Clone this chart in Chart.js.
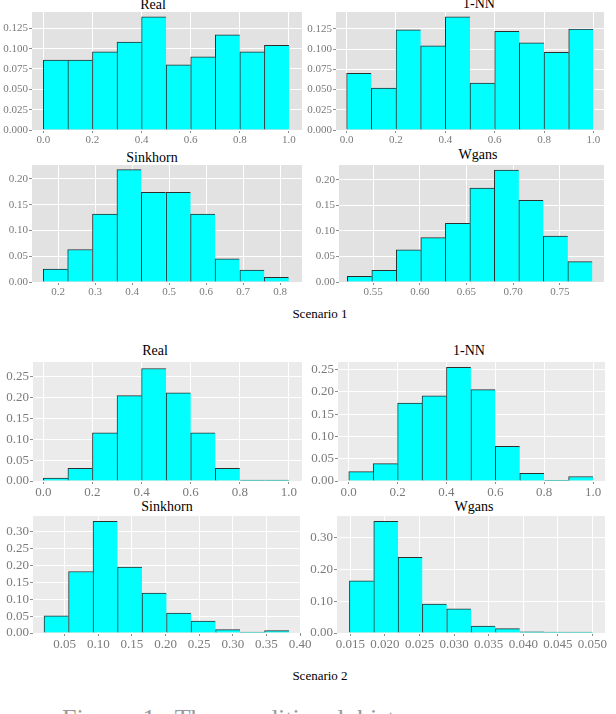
<!DOCTYPE html>
<html>
<head>
<meta charset="utf-8">
<title>Conditional histograms</title>
<script src="https://cdn.jsdelivr.net/npm/chart.js@4.4.1/dist/chart.umd.min.js"></script>
<style>
  body { margin: 0; background: #fff; }
  #page { position: relative; width: 616px; height: 714px; overflow: hidden; font-family: 'Liberation Serif', 'DejaVu Serif', serif; }
  #page canvas { position: absolute; }
  .label { position: absolute; color: #000; white-space: nowrap; line-height: 1; transform: translateX(-50%); }
  .panel-title { font-size: 14px; }
  .scenario { font-size: 13px; }
  #caption { position: absolute; left: 62px; top: 706px; width: 363px; overflow: hidden; white-space: nowrap; font-size: 26px; line-height: 1; color: #9a9a9a; word-spacing: 6px; }
</style>
</head>
<body>
<div id="page">
  <div class="label panel-title" style="left:153px;top:-2px">Real</div>
  <div class="label panel-title" style="left:479px;top:-3px">1-NN</div>
  <div class="label panel-title" style="left:152px;top:151px">Sinkhorn</div>
  <div class="label panel-title" style="left:478px;top:148px">Wgans</div>
  <div class="label scenario" style="left:320px;top:307px">Scenario 1</div>
  <div class="label panel-title" style="left:155px;top:344px">Real</div>
  <div class="label panel-title" style="left:469px;top:344px">1-NN</div>
  <div class="label panel-title" style="left:167px;top:500px">Sinkhorn</div>
  <div class="label panel-title" style="left:474px;top:500px">Wgans</div>
  <div class="label scenario" style="left:320px;top:669px">Scenario 2</div>
  <div id="caption">Figure 1: The conditional histograms</div>
</div>
<script>
// ---- Scenario 1 ----
const s1RealBins = [0.05, 0.15, 0.25, 0.35, 0.45, 0.55, 0.65, 0.75, 0.85, 0.95];
const s1RealValues = [0.086, 0.086, 0.096, 0.108, 0.139, 0.080, 0.090, 0.117, 0.096, 0.104];

const s1NnBins = [0.05, 0.15, 0.25, 0.35, 0.45, 0.55, 0.65, 0.75, 0.85, 0.95];
const s1NnValues = [0.070, 0.052, 0.124, 0.104, 0.140, 0.058, 0.122, 0.108, 0.096, 0.125];

const s1SinkhornBins = [0.193, 0.259, 0.326, 0.392, 0.458, 0.525, 0.591, 0.657, 0.724, 0.790];
const s1SinkhornValues = [0.025, 0.063, 0.132, 0.218, 0.174, 0.174, 0.132, 0.045, 0.023, 0.009];

const s1WgansBins = [0.5356, 0.5618, 0.5880, 0.6142, 0.6405, 0.6667, 0.6929, 0.7191, 0.7453, 0.7715];
const s1WgansValues = [0.011, 0.023, 0.063, 0.087, 0.115, 0.184, 0.219, 0.160, 0.090, 0.040];

// ---- Scenario 2 ----
const s2RealBins = [0.05, 0.15, 0.25, 0.35, 0.45, 0.55, 0.65, 0.75, 0.85, 0.95];
const s2RealValues = [0.007, 0.030, 0.115, 0.204, 0.269, 0.211, 0.115, 0.030, 0.002, 0.002];

const s2NnBins = [0.05, 0.15, 0.25, 0.35, 0.45, 0.55, 0.65, 0.75, 0.85, 0.95];
const s2NnValues = [0.021, 0.039, 0.175, 0.191, 0.255, 0.205, 0.078, 0.017, 0.0015, 0.010];

const s2SinkhornBins = [0.0374, 0.0739, 0.1103, 0.1468, 0.1832, 0.2197, 0.2561, 0.2926, 0.3290, 0.3655];
const s2SinkhornValues = [0.051, 0.182, 0.330, 0.195, 0.118, 0.059, 0.035, 0.010, 0.003, 0.007];

const s2WgansBins = [0.01662, 0.02014, 0.02365, 0.02717, 0.03069, 0.03421, 0.03773, 0.04125, 0.04476, 0.04828];
const s2WgansValues = [0.164, 0.351, 0.238, 0.091, 0.076, 0.022, 0.014, 0.004, 0.003, 0.003];

// ---- Tick labels ----
const unitTicks = [0.0, 0.2, 0.4, 0.6, 0.8, 1.0];
const s1CountTicks = [0.000, 0.025, 0.050, 0.075, 0.100, 0.125];
const s1SinkhornTicks = [0.2, 0.3, 0.4, 0.5, 0.6, 0.7, 0.8];
const s1WgansTicks = [0.55, 0.60, 0.65, 0.70, 0.75];
const s1DensityTicks = [0.00, 0.05, 0.10, 0.15, 0.20];
const s2CountTicks = [0.00, 0.05, 0.10, 0.15, 0.20, 0.25];
const s2SinkhornTicks = [0.05, 0.10, 0.15, 0.20, 0.25, 0.30, 0.35, 0.40];
const s2SinkhornCountTicks = [0.00, 0.05, 0.10, 0.15, 0.20, 0.25, 0.30];
const s2WgansTicks = [0.015, 0.020, 0.025, 0.030, 0.035, 0.040, 0.045, 0.050];
const s2WgansCountTicks = [0.00, 0.10, 0.20, 0.30];

// fondo gris del panel (estilo ggplot)
const panelBackground = {
  id: 'panelBackground',
  beforeDraw(chart, args, opts) {
    const { ctx, chartArea } = chart;
    ctx.save();
    ctx.fillStyle = opts.color;
    ctx.fillRect(chartArea.left, chartArea.top, chartArea.width, chartArea.height);
    ctx.restore();
  }
};

/**
 * Dibuja un histograma en un canvas posicionado sobre la página.
 * plot = rectángulo del área de datos en píxeles de la página.
 */
function drawHistogram(panel) {
  const page = document.getElementById('page');
  if (!page) {
    return;
  }

  const padTop = 4;
  const padRight = 12;
  const left = panel.plot.l - panel.yw;
  const top = panel.plot.t - padTop;
  const width = panel.plot.r + padRight - left;
  const height = panel.plot.b + panel.xh - top;

  const canvas = document.createElement('canvas');
  canvas.width = width;
  canvas.height = height;
  canvas.style.left = left + 'px';
  canvas.style.top = top + 'px';
  page.appendChild(canvas);

  const tickFont = { family: "'Liberation Serif', serif", size: panel.fontSize };

  new Chart(canvas.getContext('2d'), {
    type: 'bar',
    data: {
      datasets: [{
        data: panel.bins.map((x, i) => ({ x: x, y: panel.values[i] })),
        backgroundColor: '#00ffff',
        borderColor: 'rgba(0, 0, 0, 0.8)',
        borderWidth: { top: 1, left: 1, right: 0, bottom: 0 },
        barPercentage: 1,
        categoryPercentage: 1,
      }],
    },
    options: {
      responsive: false,
      animation: false,
      layout: { padding: { top: padTop, right: padRight, left: 0, bottom: 0 } },
      plugins: {
        legend: { display: false },
        tooltip: { enabled: false },
        panelBackground: { color: panel.bg },
      },
      scales: {
        x: {
          type: 'linear',
          min: panel.xRange[0],
          max: panel.xRange[1],
          offset: false,
          afterBuildTicks: scale => { scale.ticks = panel.xTicks.map(v => ({ value: v })); },
          afterFit: scale => { scale.height = panel.xh; scale.paddingLeft = 0; scale.paddingRight = 0; },
          grid: { offset: false, color: '#ffffff', lineWidth: 1, tickColor: '#8c8c8c', tickLength: 3 },
          border: { display: false },
          ticks: {
            autoSkip: false, maxRotation: 0, padding: 1, color: '#7a7a7a', font: tickFont,
            callback: v => v.toFixed(panel.xDigits),
          },
        },
        y: {
          min: 0,
          max: panel.yMax,
          afterBuildTicks: scale => { scale.ticks = panel.yTicks.map(v => ({ value: v })); },
          afterFit: scale => { scale.width = panel.yw; scale.paddingTop = 0; scale.paddingBottom = 0; },
          grid: { color: '#ffffff', lineWidth: 1, tickColor: '#8c8c8c', tickLength: 3 },
          border: { display: false },
          ticks: {
            padding: 1, color: '#7a7a7a', font: tickFont,
            callback: v => v.toFixed(panel.yDigits),
          },
        },
      },
    },
    plugins: [panelBackground],
  });
}

const s1Bg = '#e2e2e2';
const s2Bg = '#ebebeb';

const panels = [
  { bins: s1RealBins, values: s1RealValues, plot: { l: 32, r: 302, t: 12, b: 130 }, yw: 32, xh: 20, fontSize: 11, bg: s1Bg,
    xRange: [-0.046, 1.053], xTicks: unitTicks, xDigits: 1, yMax: 0.145, yTicks: s1CountTicks, yDigits: 3 },
  { bins: s1NnBins, values: s1NnValues, plot: { l: 336, r: 604, t: 12, b: 130 }, yw: 34, xh: 20, fontSize: 11, bg: s1Bg,
    xRange: [-0.043, 1.043], xTicks: unitTicks, xDigits: 1, yMax: 0.146, yTicks: s1CountTicks, yDigits: 3 },
  { bins: s1SinkhornBins, values: s1SinkhornValues, plot: { l: 32, r: 302, t: 165, b: 282 }, yw: 32, xh: 20, fontSize: 11, bg: s1Bg,
    xRange: [0.1296, 0.859], xTicks: s1SinkhornTicks, xDigits: 1, yMax: 0.227, yTicks: s1DensityTicks, yDigits: 2 },
  { bins: s1WgansBins, values: s1WgansValues, plot: { l: 339, r: 604, t: 165, b: 282 }, yw: 37, xh: 20, fontSize: 11, bg: s1Bg,
    xRange: [0.5136, 0.7971], xTicks: s1WgansTicks, xDigits: 2, yMax: 0.229, yTicks: s1DensityTicks, yDigits: 2 },
  { bins: s2RealBins, values: s2RealValues, plot: { l: 33, r: 302, t: 362, b: 481 }, yw: 33, xh: 22, fontSize: 13, bg: s2Bg,
    xRange: [-0.042, 1.053], xTicks: unitTicks, xDigits: 1, yMax: 0.2845, yTicks: s2CountTicks, yDigits: 2 },
  { bins: s2NnBins, values: s2NnValues, plot: { l: 338, r: 605, t: 362, b: 481 }, yw: 36, xh: 22, fontSize: 13, bg: s2Bg,
    xRange: [-0.044, 1.049], xTicks: unitTicks, xDigits: 1, yMax: 0.267, yTicks: s2CountTicks, yDigits: 2 },
  { bins: s2SinkhornBins, values: s2SinkhornValues, plot: { l: 33, r: 300, t: 516, b: 633 }, yw: 33, xh: 22, fontSize: 13, bg: s2Bg,
    xRange: [0.0028, 0.40], xTicks: s2SinkhornTicks, xDigits: 2, yMax: 0.346, yTicks: s2SinkhornCountTicks, yDigits: 2 },
  { bins: s2WgansBins, values: s2WgansValues, plot: { l: 337, r: 605, t: 516, b: 633 }, yw: 35, xh: 22, fontSize: 13, bg: s2Bg,
    xRange: [0.01307, 0.05181], xTicks: s2WgansTicks, xDigits: 3, yMax: 0.368, yTicks: s2WgansCountTicks, yDigits: 2 },
];

panels.forEach(drawHistogram);
</script>
</body>
</html>
